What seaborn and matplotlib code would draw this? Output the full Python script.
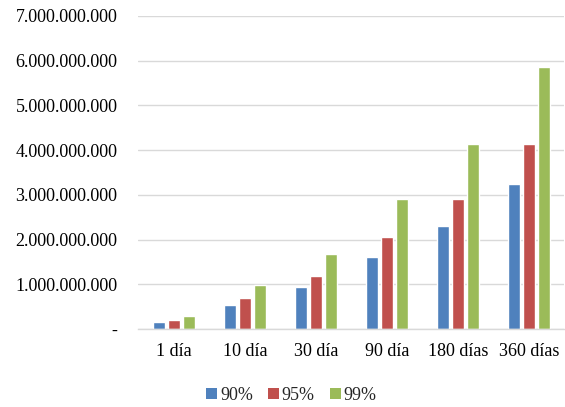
import matplotlib
matplotlib.use("Agg")
import matplotlib.pyplot as plt
from matplotlib.patches import Patch
from matplotlib.ticker import FuncFormatter
import seaborn as sns
import pandas as pd

# Horizons and confidence levels
plazos = ["1 día", "10 día", "30 día", "90 día", "180 días", "360 días"]
niveles = ["90%", "95%", "99%"]

# Values per confidence level (one per horizon)
v90 = [0.165e9, 0.54e9, 0.94e9, 1.61e9, 2.30e9, 3.24e9]
v95 = [0.21e9, 0.69e9, 1.19e9, 2.05e9, 2.91e9, 4.13e9]
v99 = [0.305e9, 0.98e9, 1.67e9, 2.91e9, 4.13e9, 5.85e9]

colores = ["#4F81BD", "#C0504D", "#9BBB59"]

rows = []
for nivel, serie in zip(niveles, [v90, v95, v99]):
    for plazo, valor in zip(plazos, serie):
        rows.append({"plazo": plazo, "nivel": nivel, "valor": valor})
df = pd.DataFrame(rows)

sns.set_style("white")
plt.rcParams["font.family"] = ["Liberation Serif", "DejaVu Serif"]

fig = plt.figure(figsize=(5.65, 4.07), dpi=100)
ax = fig.add_axes([0.245, 0.191, 0.754, 0.770])

sns.barplot(data=df, x="plazo", y="valor", hue="nivel", order=plazos,
            hue_order=niveles, palette=colores, width=0.64, gap=0.2,
            saturation=1, legend=False, ax=ax)

ax.set_xlim(-0.5, 5.5)
ax.set_ylim(0, 7e9)
ax.set_yticks([i * 1e9 for i in range(8)])


def fmt(v, _):
    if abs(v) < 1:
        return "-"
    return f"{int(round(v)):,}".replace(",", ".")


ax.yaxis.set_major_formatter(FuncFormatter(fmt))
ax.grid(axis="y", color="#D9D9D9", linewidth=1)
ax.set_axisbelow(True)
for side in ["top", "right", "left"]:
    ax.spines[side].set_visible(False)
ax.spines["bottom"].set_color("#D9D9D9")
ax.spines["bottom"].set_linewidth(1)
ax.tick_params(axis="both", length=0, labelsize=13, colors="black")
ax.tick_params(axis="y", pad=15)
ax.tick_params(axis="x", pad=10)
ax.set_xlabel("")
ax.set_ylabel("")

handles = [Patch(facecolor=c, edgecolor="none") for c in colores]
fig.legend(handles, niveles, loc="center", bbox_to_anchor=(0.516, 0.029),
           ncol=3, frameon=False, fontsize=13, handlelength=0.6,
           handleheight=0.6, handletextpad=0.15, columnspacing=0.85)

fig.savefig("out.png", dpi=100)
